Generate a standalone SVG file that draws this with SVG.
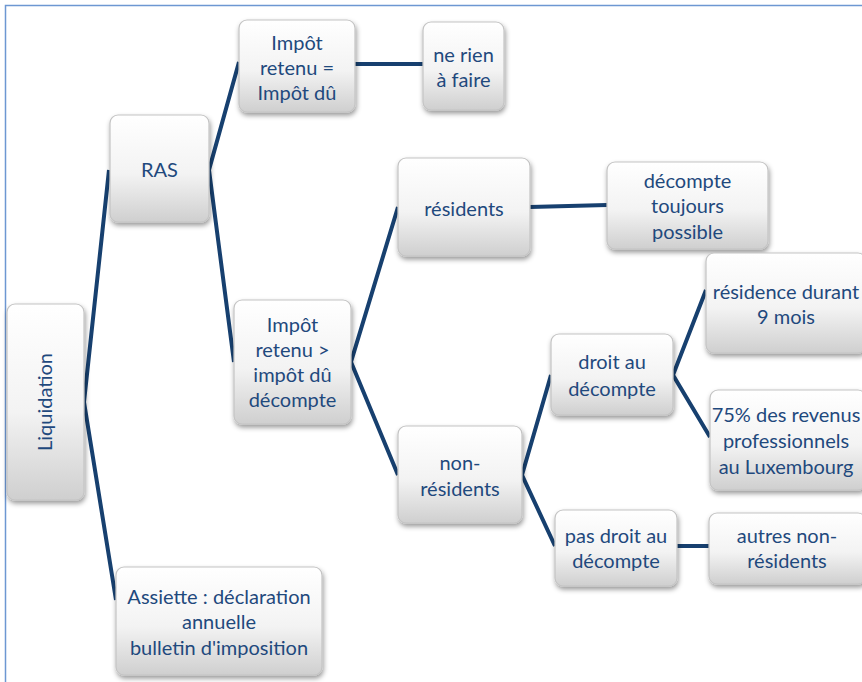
<svg xmlns="http://www.w3.org/2000/svg" width="862" height="682" viewBox="0 0 862 682">
<defs>
<linearGradient id="g" x1="0" y1="0" x2="0" y2="1">
<stop offset="0" stop-color="#ffffff"/>
<stop offset="0.55" stop-color="#f3f3f3"/>
<stop offset="1" stop-color="#cfcfcf"/>
</linearGradient>
<filter id="sh" x="-20%" y="-20%" width="140%" height="140%">
<feDropShadow dx="1" dy="3" stdDeviation="2.5" flood-color="#000" flood-opacity="0.4"/>
</filter>
</defs>
<style>
.box{fill:url(#g);stroke:#c4c4c4;stroke-width:1.2;filter:url(#sh)}
.t{font-family:Lato,"Open Sans",sans-serif;font-size:20px;fill:#1f497d;text-anchor:middle}
.c{stroke:#17406f;stroke-width:4;fill:none;stroke-linejoin:miter}
</style>
<rect x="0" y="0" width="862" height="682" fill="#ffffff"/>
<rect x="5.5" y="5.5" width="870" height="690" fill="none" stroke="#6d97d2" stroke-width="1.5"/>
<g id="connectors">
<polyline class="c" points="109,170 84,402 116,600"/>
<polyline class="c" points="239,62 209,170 234,362"/>
<line class="c" x1="355" y1="64" x2="423" y2="64"/>
<polyline class="c" points="398,207 351,362 398,475"/>
<line class="c" x1="530" y1="207" x2="607" y2="205"/>
<polyline class="c" points="551,375 522,475 555,546"/>
<polyline class="c" points="706,290 673,375 710,437"/>
<line class="c" x1="677" y1="546" x2="709" y2="546"/>
</g>
<g id="liquidation">
<rect class="box" x="7" y="304" width="77" height="196" rx="8"/>
<text class="t" transform="translate(52,402) rotate(-90)">Liquidation</text>
</g>
<g id="ras">
<rect class="box" x="110" y="115" width="99" height="107" rx="8"/>
<text class="t" x="159.5" y="177">RAS</text>
</g>
<g id="impot-egal">
<rect class="box" x="239" y="20" width="116" height="92" rx="8"/>
<text class="t" x="297" y="50">Impôt</text>
<text class="t" x="297" y="75">retenu =</text>
<text class="t" x="297" y="100">Impôt dû</text>
</g>
<g id="ne-rien">
<rect class="box" x="423" y="22" width="81" height="88" rx="8"/>
<text class="t" x="463.5" y="62">ne rien</text>
<text class="t" x="463.5" y="87">à faire</text>
</g>
<g id="impot-sup">
<rect class="box" x="234" y="300" width="117" height="124" rx="8"/>
<text class="t" x="292.5" y="332">Impôt</text>
<text class="t" x="292.5" y="357">retenu &gt;</text>
<text class="t" x="292.5" y="382">impôt dû</text>
<text class="t" x="292.5" y="407">décompte</text>
</g>
<g id="residents">
<rect class="box" x="398" y="158" width="132" height="98" rx="8"/>
<text class="t" x="464" y="216">résidents</text>
</g>
<g id="decompte-toujours">
<rect class="box" x="607" y="162" width="161" height="87" rx="8"/>
<text class="t" x="687.5" y="188">décompte</text>
<text class="t" x="687.5" y="213">toujours</text>
<text class="t" x="687.5" y="239">possible</text>
</g>
<g id="non-residents">
<rect class="box" x="398" y="426" width="124" height="97" rx="8"/>
<text class="t" x="460" y="470">non-</text>
<text class="t" x="460" y="496">résidents</text>
</g>
<g id="droit">
<rect class="box" x="551" y="334" width="122" height="81" rx="8"/>
<text class="t" x="612" y="369">droit au</text>
<text class="t" x="612" y="396">décompte</text>
</g>
<g id="residence">
<rect class="box" x="706" y="253" width="160" height="100" rx="8"/>
<text class="t" x="786" y="299">résidence durant</text>
<text class="t" x="786" y="324">9 mois</text>
</g>
<g id="revenus">
<rect class="box" x="710" y="390" width="156" height="100" rx="8"/>
<text class="t" x="786" y="422">75% des revenus</text>
<text class="t" x="786" y="448">professionnels</text>
<text class="t" x="786" y="474">au Luxembourg</text>
</g>
<g id="pas-droit">
<rect class="box" x="555" y="510" width="122" height="76" rx="8"/>
<text class="t" x="616" y="543">pas droit au</text>
<text class="t" x="616" y="568">décompte</text>
</g>
<g id="autres">
<rect class="box" x="709" y="513" width="157" height="71" rx="8"/>
<text class="t" x="787" y="543">autres non-</text>
<text class="t" x="787" y="568">résidents</text>
</g>
<g id="assiette">
<rect class="box" x="116" y="567" width="206" height="108" rx="8"/>
<text class="t" x="219" y="604">Assiette : déclaration</text>
<text class="t" x="219" y="629">annuelle</text>
<text class="t" x="219" y="655">bulletin d'imposition</text>
</g>
</svg>
